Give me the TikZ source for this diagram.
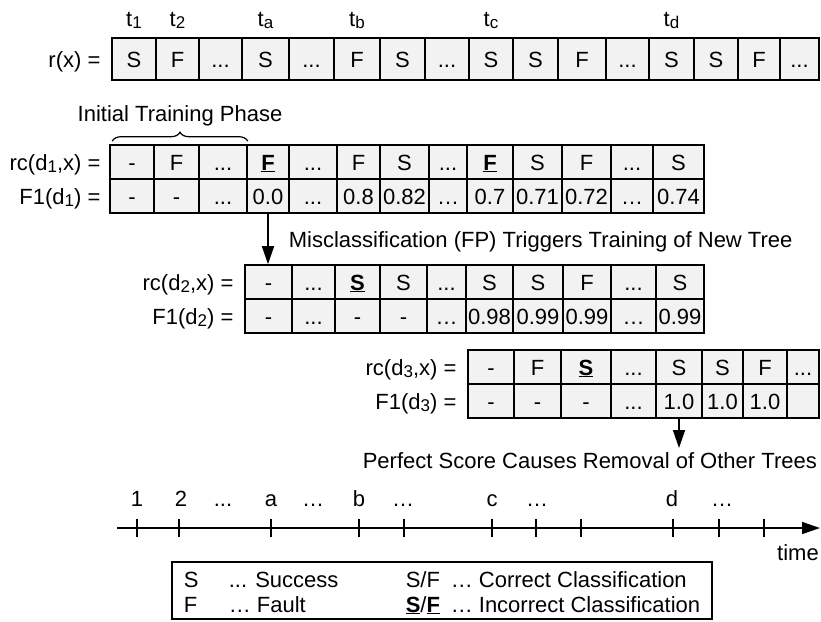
\documentclass[tikz,border=0pt]{standalone}
\usepackage{fontspec}
\setmainfont{Liberation Sans}
\usetikzlibrary{positioning, arrows.meta, decorations.pathreplacing}
\newcommand{\wrongcls}[1]{\underline{\textbf{#1}}}
\newcommand{\idx}[1]{\raisebox{-2.5pt}{\fontsize{17pt}{20pt}\selectfont #1}}

\begin{document}
\begin{tikzpicture}[x=1pt, y=-1pt, font=\fontsize{22pt}{26pt}\selectfont, line width=1.6pt,
  >={Triangle[length=18pt, width=12pt]},
  txt/.style={inner sep=0pt, text height=16pt, text depth=0pt},
  cell/.style={txt, draw, fill=black!5, minimum width=#1},
  rcell/.style={cell=#1, minimum height=42pt},
  tcell/.style={cell=#1, minimum height=34pt},
  lbl/.style={txt, left=#1}]
\useasboundingbox (0,0) rectangle (821,621);
% Referenz r(x)
\node[rcell=44pt] (r1) at (134,59) {S};
\node[rcell=43pt] (r2) at (177.5,59) {F};
\node[rcell=43pt] (r3) at (220.5,59) {...};
\node[rcell=47pt] (r4) at (265.5,59) {S};
\node[rcell=45pt] (r5) at (311.5,59) {...};
\node[rcell=46pt] (r6) at (357,59) {F};
\node[rcell=45pt] (r7) at (402.5,59) {S};
\node[rcell=44pt] (r8) at (447,59) {...};
\node[rcell=44pt] (r9) at (491,59) {S};
\node[rcell=45pt] (r10) at (535.5,59) {S};
\node[rcell=48pt] (r11) at (582,59) {F};
\node[rcell=43pt] (r12) at (627.5,59) {...};
\node[rcell=45pt] (r13) at (671.5,59) {S};
\node[rcell=44pt] (r14) at (716,59) {S};
\node[rcell=42pt] (r15) at (759,59) {F};
\node[rcell=39pt] (r16) at (799.5,59) {...};
\node[lbl=10pt of r1] (lr) {r(x) =};
% Zeitpunkte
\node[txt, above=11pt of r1, anchor=base] (t1) {t\idx{1}};
\node[txt, above=11pt of r2, anchor=base] (t2) {t\idx{2}};
\node[txt, above=11pt of r4, anchor=base] (ta) {t\idx{a}};
\node[txt, above=11pt of r6, anchor=base] (tb) {t\idx{b}};
\node[txt, above=11pt of r9, anchor=base] (tc) {t\idx{c}};
\node[txt, above=11pt of r13, anchor=base] (td) {t\idx{d}};
% Baum d1
\node[tcell=44pt] (ca1) at (132,162) {-};
\node[tcell=45pt] (ca2) at (176.5,162) {F};
\node[tcell=48pt] (ca3) at (223,162) {...};
\node[tcell=42pt] (ca4) at (268,162) {\wrongcls{F}};
\node[tcell=48pt] (ca5) at (313,162) {...};
\node[tcell=43pt] (ca6) at (358.5,162) {F};
\node[tcell=49pt] (ca7) at (404.5,162) {S};
\node[tcell=38pt] (ca8) at (448,162) {...};
\node[tcell=46pt] (ca9) at (490,162) {\wrongcls{F}};
\node[tcell=49pt] (ca10) at (537.5,162) {S};
\node[tcell=49pt] (ca11) at (586.5,162) {F};
\node[tcell=42pt] (ca12) at (632,162) {...};
\node[tcell=51pt] (ca13) at (678.5,162) {S};
\node[tcell=44pt] (fa1) at (132,196) {-};
\node[tcell=45pt] (fa2) at (176.5,196) {-};
\node[tcell=48pt] (fa3) at (223,196) {...};
\node[tcell=42pt] (fa4) at (268,196) {0.0};
\node[tcell=48pt] (fa5) at (313,196) {...};
\node[tcell=43pt] (fa6) at (358.5,196) {0.8};
\node[tcell=49pt] (fa7) at (404.5,196) {0.82};
\node[tcell=38pt] (fa8) at (448,196) {…};
\node[tcell=46pt] (fa9) at (490,196) {0.7};
\node[tcell=49pt] (fa10) at (537.5,196) {0.71};
\node[tcell=49pt] (fa11) at (586.5,196) {0.72};
\node[tcell=42pt] (fa12) at (632,196) {…};
\node[tcell=51pt] (fa13) at (678.5,196) {0.74};
\node[lbl=8pt of ca1] (lca) {rc(d\idx{1},x) =};
\node[lbl=8pt of fa1] (lfa) {F1(d\idx{1}) =};
\draw[decorate, decoration={brace, amplitude=9pt}, line width=1.2pt] ([xshift=3pt, yshift=3pt]ca1.north west) -- ([yshift=3pt]ca3.north east);
\node[txt] (phase) at (180,113) {Initial Training Phase};
% Baum d2
\node[tcell=47pt] (cb1) at (268.5,282) {-};
\node[tcell=43pt] (cb2) at (313.5,282) {...};
\node[tcell=45pt] (cb3) at (357.5,282) {\wrongcls{S}};
\node[tcell=47pt] (cb4) at (403.5,282) {S};
\node[tcell=39pt] (cb5) at (446.5,282) {...};
\node[tcell=47pt] (cb6) at (489.5,282) {S};
\node[tcell=50pt] (cb7) at (538,282) {S};
\node[tcell=48pt] (cb8) at (587,282) {F};
\node[tcell=45pt] (cb9) at (633.5,282) {...};
\node[tcell=48pt] (cb10) at (680,282) {S};
\node[tcell=47pt] (fb1) at (268.5,316) {-};
\node[tcell=43pt] (fb2) at (313.5,316) {...};
\node[tcell=45pt] (fb3) at (357.5,316) {-};
\node[tcell=47pt] (fb4) at (403.5,316) {-};
\node[tcell=39pt] (fb5) at (446.5,316) {…};
\node[tcell=47pt] (fb6) at (489.5,316) {0.98};
\node[tcell=50pt] (fb7) at (538,316) {0.99};
\node[tcell=48pt] (fb8) at (587,316) {0.99};
\node[tcell=45pt] (fb9) at (633.5,316) {…};
\node[tcell=48pt] (fb10) at (680,316) {0.99};
\node[lbl=10pt of cb1] (lcb) {rc(d\idx{2},x) =};
\node[lbl=10pt of fb1] (lfb) {F1(d\idx{2}) =};
\draw[->] (fa4.south) -- (fa4.south |- cb1.north);
\node[txt, anchor=west] (mis) at (288,239) {Misclassification (FP) Triggers Training of New Tree};
% Baum d3
\node[tcell=46pt] (cc1) at (491,367) {-};
\node[tcell=47pt] (cc2) at (537.5,367) {F};
\node[tcell=50pt] (cc3) at (586,367) {\wrongcls{S}};
\node[tcell=45pt] (cc4) at (633.5,367) {...};
\node[tcell=46pt] (cc5) at (679,367) {S};
\node[tcell=41pt] (cc6) at (722.5,367) {S};
\node[tcell=44pt] (cc7) at (765,367) {F};
\node[tcell=32pt] (cc8) at (803,367) {...};
\node[tcell=46pt] (fc1) at (491,401) {-};
\node[tcell=47pt] (fc2) at (537.5,401) {-};
\node[tcell=50pt] (fc3) at (586,401) {-};
\node[tcell=45pt] (fc4) at (633.5,401) {...};
\node[tcell=46pt] (fc5) at (679,401) {1.0};
\node[tcell=41pt] (fc6) at (722.5,401) {1.0};
\node[tcell=44pt] (fc7) at (765,401) {1.0};
\node[tcell=32pt] (fc8) at (803,401) {};
\node[lbl=10pt of cc1] (lcc) {rc(d\idx{3},x) =};
\node[lbl=10pt of fc1] (lfc) {F1(d\idx{3}) =};
\coordinate (cut) at (679,448);
\draw[->] (fc5.south) -- (cut);
\node[txt, anchor=west] (perfect) at (362,460) {Perfect Score Causes Removal of Other Trees};
% Zeitachse
\coordinate (ax0) at (117,528);
\coordinate (ax1) at (820,528);
\draw[->] (ax0) -- (ax1);
\draw (137,519) -- (137,537) (179,519) -- (179,537) (271,519) -- (271,537)
  (359,519) -- (359,537) (404,519) -- (404,537) (492,519) -- (492,537)
  (536,519) -- (536,537) (581,519) -- (581,537) (673,519) -- (673,537)
  (719,519) -- (719,537) (764,519) -- (764,537);
\node[txt] (s1) at (137,498) {1};
\node[txt] (s2) at (181,498) {2};
\node[txt] (s3) at (223,498) {...};
\node[txt] (sa) at (271,498) {a};
\node[txt] (s4) at (313,498) {…};
\node[txt] (sb) at (359,498) {b};
\node[txt] (s5) at (403,498) {…};
\node[txt] (sc) at (492,498) {c};
\node[txt] (s6) at (537,498) {…};
\node[txt] (sd) at (672,498) {d};
\node[txt] (s7) at (722,498) {…};
\node[txt] (time) at (798,552) {time};
% Legende
\node[draw, line width=1.4pt, inner sep=0pt, minimum width=540pt, minimum height=57pt] (legend) at (442,590.5) {};
\node[anchor=base west, inner sep=0pt] (kS) at (183,587) {S};
\node[anchor=base west, inner sep=0pt] (kSt) at (228,587) {... Success};
\node[anchor=base west, inner sep=0pt] (kF) at (183,612) {F};
\node[anchor=base west, inner sep=0pt] (kFt) at (228,612) {… Fault};
\node[anchor=base west, inner sep=0pt] (kok) at (405,587) {S/F};
\node[anchor=base west, inner sep=0pt] (kokt) at (450,587) {… Correct Classification};
\node[anchor=base west, inner sep=0pt] (kno) at (405,612) {\wrongcls{S}/\wrongcls{F}};
\node[anchor=base west, inner sep=0pt] (knot) at (450,612) {… Incorrect Classification};
\end{tikzpicture}
\end{document}
